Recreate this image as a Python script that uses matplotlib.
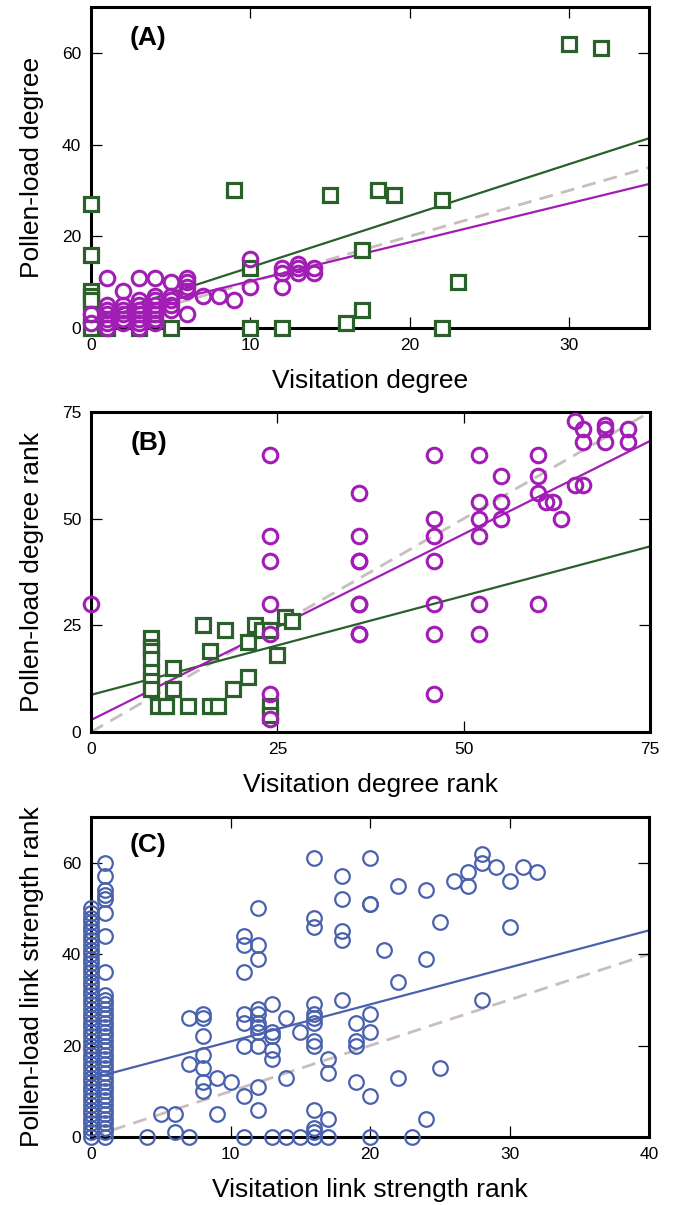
import matplotlib
matplotlib.use("Agg")
import matplotlib.pyplot as plt
import numpy as np

plt.rcParams['font.family'] = ['Liberation Sans', 'DejaVu Sans']

# ---------------- Panel A data ----------------
a_green_x = [0, 0, 0, 0, 0, 0, 0, 1, 3, 4, 5, 9, 10, 10, 12, 15, 16, 17, 17, 18, 19, 22, 22, 23, 30, 32]
a_green_y = [27, 16, 8, 7, 6, 3, 0, 0, 0, 3, 0, 30, 13, 0, 0, 29, 1, 17, 4, 30, 29, 28, 0, 10, 62, 61]

a_purple_x = [0, 0,
              1, 1, 1, 1, 1, 1, 1,
              2, 2, 2, 2, 2, 2,
              3, 3, 3, 3, 3, 3, 3, 3,
              4, 4, 4, 4, 4, 4, 4, 4,
              5, 5, 5, 5, 5,
              6, 6, 6, 6, 6,
              7, 8, 9, 10, 10,
              12, 12, 12, 13, 13, 13, 14, 14]
a_purple_y = [3, 1,
              0, 1, 2, 3, 4, 5, 11,
              1, 2, 3, 4, 5, 8,
              0, 1, 2, 3, 4, 5, 6, 11,
              1, 2, 3, 4, 5, 6, 7, 11,
              4, 5, 6, 7, 10,
              3, 8, 9, 10, 11,
              7, 7, 6, 9, 15,
              9, 12, 13, 12, 13, 14, 12, 13]

# fitted lines (intercept, slope)
a_green_fit = [2.0, 1.125]
a_purple_fit = [1.76, 0.847]

# ---------------- Panel B data ----------------
b_green_x = [8, 8, 8, 8, 8, 8, 8, 9, 10, 11, 11, 13, 15, 16, 16, 17, 18, 19, 21, 21, 22, 23, 24, 24, 24, 25, 26, 27]
b_green_y = [22, 20, 19, 17, 14, 12, 10, 6, 6, 15, 10, 6, 25, 19, 6, 6, 24, 10, 13, 21, 25, 24, 24, 6, 4, 18, 27, 26]

b_purple_x = [0,
              24, 24, 24, 24, 24, 24, 24,
              36, 36, 36, 36, 36, 36, 36, 36,
              46, 46, 46, 46, 46, 46, 46,
              52, 52, 52, 52, 52, 52,
              55, 55, 55,
              60, 60, 60, 60,
              61, 62, 63,
              65, 65,
              66, 66, 66,
              69, 69, 69,
              72, 72]
b_purple_y = [30,
              65, 46, 40, 30, 23, 9, 3,
              56, 46, 40, 40, 30, 30, 23, 23,
              65, 50, 46, 40, 30, 23, 9,
              65, 54, 50, 46, 30, 23,
              60, 54, 50,
              65, 60, 56, 30,
              54, 54, 50,
              73, 58,
              71, 68, 58,
              72, 71, 68,
              71, 68]

b_green_fit = [8.7, 0.464]
b_purple_fit = [2.8, 0.872]

# ---------------- Panel C data ----------------
c_x0_y = [0, 1, 2, 3, 4, 5, 6, 7, 8, 9, 10, 11, 12, 13, 14, 15, 16, 17, 18, 19, 20,
          21, 22, 23, 24, 25, 26, 27, 28, 29, 30, 31, 32, 33, 34, 35, 36, 37, 38, 39, 40,
          41, 42, 43, 44, 45, 46, 47, 48, 49, 50]
c_x1_y = [0, 1, 2, 3, 4, 5, 6, 7, 8, 9, 10, 11, 12, 13, 14, 15, 16, 17, 18, 19, 20,
          21, 22, 23, 24, 25, 26, 27, 28, 29, 30, 31, 36, 44, 49, 52, 53, 54, 57, 60]
c_other_x = [4, 5, 6, 6, 7, 7, 7, 8, 8, 8, 8, 8, 8, 8, 9, 9, 10,
             11, 11, 11, 11, 11, 11, 11, 11,
             12, 12, 12, 12, 12, 12, 12, 12, 12, 12, 12,
             13, 13, 13, 13, 13, 13,
             14, 14, 14, 15, 15,
             16, 16, 16, 16, 16, 16, 16, 16, 16, 16, 16, 16, 16,
             17, 17, 17, 17,
             18, 18, 18, 18, 18,
             19, 19, 19, 19,
             20, 20, 20, 20, 20, 20, 20,
             21, 22, 22, 22, 23, 24, 24, 24, 25, 25,
             26, 27, 27, 28, 28, 28, 29, 30, 30, 31, 32]
c_other_y = [0, 5, 5, 1, 0, 26, 16, 27, 26, 22, 18, 15, 12, 10, 13, 5, 12,
             44, 42, 36, 27, 25, 20, 9, 0,
             50, 42, 39, 28, 27, 25, 24, 23, 20, 11, 6,
             29, 23, 22, 19, 17, 0,
             26, 13, 0, 23, 0,
             61, 48, 46, 29, 27, 26, 25, 21, 20, 6, 2, 1, 0,
             17, 14, 4, 0,
             57, 52, 45, 43, 30,
             25, 21, 20, 12,
             61, 51, 51, 27, 23, 9, 0,
             41, 55, 34, 13, 0, 54, 39, 4, 47, 15,
             56, 58, 55, 62, 60, 30, 59, 56, 46, 59, 58]
c_fit = [12.8, 0.81]

GREEN = '#2b5f2b'
PURPLE = '#a21db5'
BLUE = '#4a62ad'
GRAY = '#c9bdbd'

fig = plt.figure(figsize=(6.73, 12.05), dpi=100)
W, H = 673.0, 1205.0

def make_ax(left, right, top, bottom):
    return fig.add_axes([left / W, 1 - bottom / H, (right - left) / W, (bottom - top) / H])

def style(ax):
    for s in ax.spines.values():
        s.set_linewidth(2.2)
        s.set_zorder(2.5)
    ax.tick_params(direction='in', length=8, width=0.9, top=True, right=True,
                   labelsize=12.5, pad=7, color='black')

def fitline(ax, fit, xmax, color, lw=1.6):
    xs = np.array([0, xmax])
    ax.plot(xs, fit[0] + fit[1] * xs, color=color, lw=lw, zorder=2)

def identity(ax, xmax):
    xs = np.array([0, xmax])
    ax.plot(xs, xs, color=GRAY, lw=2.0, ls=(0, (5, 3)), zorder=1.5)

XPAD = 12
YPAD = 13

# Panel A
axA = make_ax(91, 649, 7, 328)
identity(axA, 35)
fitline(axA, a_green_fit, 35, GREEN)
fitline(axA, a_purple_fit, 35, PURPLE)
axA.plot(a_green_x, a_green_y, 's', ms=9.4, mfc='white', mec=GREEN, mew=2.3, ls='none', clip_on=False, zorder=3)
axA.plot(a_purple_x, a_purple_y, 'o', ms=10.5, mfc='none', mec=PURPLE, mew=2.2, ls='none', clip_on=False, zorder=4)
axA.set_xlim(0, 35)
axA.set_ylim(0, 70)
axA.set_xticks([0, 10, 20, 30])
axA.set_yticks([0, 20, 40, 60])
style(axA)
axA.set_xlabel('Visitation degree', fontsize=19, labelpad=XPAD)
axA.set_ylabel('Pollen-load degree', fontsize=19, labelpad=YPAD)
axA.text(0.07, 0.94, '(A)', transform=axA.transAxes, fontsize=19, fontweight='bold', va='top', ha='left')

# Panel B
axB = make_ax(91, 650, 412, 732)
identity(axB, 75)
fitline(axB, b_green_fit, 75, GREEN)
fitline(axB, b_purple_fit, 75, PURPLE)
axB.plot(b_green_x, b_green_y, 's', ms=9.4, mfc='white', mec=GREEN, mew=2.3, ls='none', clip_on=False, zorder=3)
axB.plot(b_purple_x, b_purple_y, 'o', ms=10.5, mfc='none', mec=PURPLE, mew=2.2, ls='none', clip_on=False, zorder=4)
axB.set_xlim(0, 75)
axB.set_ylim(0, 75)
axB.set_xticks([0, 25, 50, 75])
axB.set_yticks([0, 25, 50, 75])
style(axB)
axB.set_xlabel('Visitation degree rank', fontsize=19, labelpad=XPAD)
axB.set_ylabel('Pollen-load degree rank', fontsize=19, labelpad=YPAD)
axB.text(0.07, 0.94, '(B)', transform=axB.transAxes, fontsize=19, fontweight='bold', va='top', ha='left')

# Panel C
axC = make_ax(91, 649, 817, 1137)
identity(axC, 40)
fitline(axC, c_fit, 40, BLUE)
cx = [0] * len(c_x0_y) + [1] * len(c_x1_y) + c_other_x
cy = c_x0_y + c_x1_y + c_other_y
axC.plot(cx, cy, 'o', ms=10.5, mfc='none', mec=BLUE, mew=1.6, ls='none', clip_on=False, zorder=3)
axC.set_xlim(0, 40)
axC.set_ylim(0, 70)
axC.set_xticks([0, 10, 20, 30, 40])
axC.set_yticks([0, 20, 40, 60])
style(axC)
axC.set_xlabel('Visitation link strength rank', fontsize=19, labelpad=XPAD)
axC.set_ylabel('Pollen-load link strength rank', fontsize=19, labelpad=YPAD)
axC.text(0.07, 0.95, '(C)', transform=axC.transAxes, fontsize=19, fontweight='bold', va='top', ha='left')

fig.savefig('out.png', dpi=100)
